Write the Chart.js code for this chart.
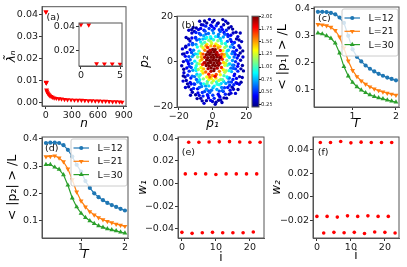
<!DOCTYPE html>
<html>
<head>
<meta charset="utf-8">
<script src="https://cdn.jsdelivr.net/npm/chart.js@4.4.1/dist/chart.umd.min.js"></script>
<style>
  body { margin: 0; background: #fff; }
  #wrap { position: relative; width: 407px; height: 267px; overflow: hidden; background: #fff; }
  canvas { position: absolute; }
</style>
</head>
<body>
<div id="wrap">
  <canvas id="pa" width="135" height="130" style="left:0px;top:0px"></canvas>
  <canvas id="pins" width="78" height="65" style="left:50px;top:15px"></canvas>
  <canvas id="pb" width="137" height="130" style="left:135px;top:0px"></canvas>
  <canvas id="pc" width="135" height="130" style="left:272px;top:0px"></canvas>
  <canvas id="pd" width="135" height="137" style="left:0px;top:130px"></canvas>
  <canvas id="pe" width="135" height="137" style="left:135px;top:130px"></canvas>
  <canvas id="pf" width="137" height="137" style="left:270px;top:130px"></canvas>
</div>
<script>
// (a) spectrum
const nVals = [0, 1, 2, 3, 4, 5, 8, 12, 18, 25, 35, 45, 60, 75, 95, 120, 150, 180, 215, 250, 290, 330, 370, 410, 450, 490, 530, 570, 610, 650, 690, 730, 770, 810, 850, 880];
const lambdaVals = [0.0412, 0.0411, 0.0093, 0.0092, 0.0091, 0.0090, 0.0058, 0.0052, 0.0046, 0.0041, 0.0036, 0.0032, 0.0028, 0.0025, 0.0022, 0.0020, 0.0018, 0.0017, 0.0015, 0.0014, 0.0013, 0.0012, 0.0011, 0.0011, 0.0010, 0.0009, 0.0009, 0.0008, 0.0008, 0.0007, 0.0007, 0.0006, 0.0005, 0.0005, 0.0004, 0.0003];
const insetCount = 6;

// (b) momentum scatter: [p1, p2, colour value], outer points first
const bPoints = [
  [16.6,0.6,0.3],[16.4,3.8,0.26],[15.6,7.0,0.33],[14.2,10.0,0.28],[12.2,12.6,0.32],[9.6,14.8,0.26],[6.6,16.2,0.3],[3.4,17.0,0.28],
  [0.0,17.4,0.33],[-3.4,17.0,0.26],[-6.6,16.2,0.3],[-9.6,14.8,0.28],[-12.2,12.6,0.33],[-14.2,10.0,0.26],[-15.8,6.8,0.3],[-16.8,3.4,0.28],
  [-17.2,0.0,0.33],[-17.0,-3.4,0.26],[-16.2,-6.8,0.3],[-14.8,-9.8,0.28],[-12.6,-12.4,0.33],[-10.0,-14.6,0.26],[-7.0,-16.2,0.3],[-3.6,-17.2,0.28],
  [0.0,-17.6,0.33],[3.6,-17.0,0.26],[6.8,-16.0,0.3],[9.8,-14.4,0.28],[12.4,-12.2,0.33],[14.6,-9.6,0.26],[16.0,-6.6,0.3],[16.8,-3.2,0.28],
  [15.0,11.0,0.35],[11.0,15.4,0.3],[-11.4,15.0,0.35],[-15.6,10.6,0.3],[-17.8,5.6,0.35],[-18.2,-1.8,0.3],[-17.4,-8.6,0.35],[-13.0,-14.8,0.3],
  [-5.0,-18.4,0.35],[5.6,-18.0,0.3],[13.6,-14.0,0.35],[17.6,-7.0,0.3],[18.0,2.0,0.35],[17.2,8.8,0.3],[7.8,17.8,0.35],[-7.6,17.8,0.3],
  [-1.8,18.6,0.35],[1.6,-18.8,0.3],[15.8,-10.0,0.4],[-16.0,-11.4,0.35],[16.4,12.6,0.3],[-14.0,13.8,0.35],
  [15.3,2.7,0.33],[13.1,-5.5,0.38],[11.7,-11.3,0.3],[8.3,-16.1,0.27],[2.1,-17.9,0.3],[-2.7,-15.1,0.42],[-9.1,-16.3,0.27],[-14.1,-11.1,0.31],
  [-16.9,-4.9,0.35],[-16.1,2.3,0.42],[-13.3,9.1,0.36],[-8.3,14.1,0.38],[-4.7,17.9,0.27],[2.9,16.7,0.3],[9.1,16.9,0.26],[13.9,12.9,0.3],
  [16.3,6.1,0.34],[17.7,-1.7,0.28],[15.1,-12.3,0.27],[10.9,-13.9,0.36],[4.9,-16.9,0.32],[-1.1,-17.1,0.4],[-7.9,-14.9,0.37],[-11.9,-13.5,0.29],
  [-15.5,-8.3,0.3],[-14.5,-0.1,0.45],[-15.9,6.3,0.32],[-10.7,13.3,0.31],[-5.5,16.1,0.36],[-0.3,15.5,0.44],[5.9,14.1,0.42],[11.9,14.3,0.27],
  [15.7,9.5,0.29],[14.9,-2.1,0.42],[16.9,-9.1,0.27],[3.9,-15.1,0.35],[-6.1,-17.3,0.28],[-12.7,-9.9,0.38],[-17.3,-6.3,0.27],[-17.7,3.3,0.3],
  [-12.3,14.1,0.29],[0.9,18.1,0.28],[6.1,18.5,0.26],[17.9,4.7,0.26],[18.3,-4.1,0.27],[13.9,-9.3,0.4],
  [13.6,0.0,0.5],[13.4,3.2,0.45],[12.6,6.2,0.52],[11.2,8.8,0.42],[9.2,11.0,0.5],[6.8,12.8,0.45],[4.0,14.0,0.52],[1.0,14.6,0.42],
  [-2.0,14.6,0.5],[-5.0,13.8,0.45],[-7.8,12.4,0.52],[-10.0,10.4,0.42],[-11.8,8.0,0.5],[-13.2,5.2,0.45],[-14.0,2.2,0.52],[-14.2,-1.0,0.42],
  [-13.8,-4.2,0.5],[-12.8,-7.2,0.45],[-11.0,-9.8,0.52],[-8.8,-12.0,0.42],[-6.0,-13.6,0.5],[-3.0,-14.6,0.45],[0.2,-14.8,0.52],[3.4,-14.4,0.42],
  [6.4,-13.2,0.5],[9.0,-11.4,0.45],[11.2,-9.0,0.52],[12.8,-6.2,0.42],[13.6,-3.2,0.5],
  [14.6,1.6,0.45],[14.2,5.0,0.4],[13.0,8.4,0.48],[10.8,11.6,0.4],[8.2,13.8,0.48],[5.2,15.2,0.4],[2.2,15.8,0.48],[-1.0,16.0,0.4],
  [-4.0,15.6,0.48],[-7.0,14.6,0.4],[-9.8,12.8,0.48],[-12.2,10.4,0.4],[-14.0,7.4,0.48],[-15.0,4.0,0.4],[-15.4,0.6,0.48],[-15.2,-2.8,0.4],
  [-14.6,-6.0,0.48],[-13.2,-9.2,0.4],[-11.2,-11.8,0.48],[-8.6,-13.8,0.4],[-5.6,-15.2,0.48],[-2.4,-16.0,0.4],[1.0,-16.2,0.48],[4.4,-15.6,0.4],
  [7.6,-14.4,0.48],[10.4,-12.6,0.4],[12.6,-10.2,0.48],[14.2,-7.4,0.4],[15.0,-4.2,0.48],[15.2,-1.0,0.4],
  [12.0,4.4,0.55],[-12.4,4.0,0.55],[-12.6,-2.6,0.55],[12.6,-1.6,0.55],[4.0,-13.0,0.55],[-4.6,-13.2,0.55],[4.6,13.2,0.55],[-4.4,13.4,0.55],
  [10.2,-10.4,0.5],[-10.6,-10.0,0.5],[-10.0,10.6,0.5],[10.6,9.8,0.5],
  [12.1,-7.9,0.47],[7.1,-11.5,0.52],[-2.3,-12.9,0.55],[-9.5,-7.9,0.6],[-13.7,-2.1,0.5],[-11.3,2.9,0.6],[-9.3,9.5,0.55],[-3.9,12.1,0.6],
  [3.3,11.1,0.65],[8.9,11.9,0.45],[12.9,4.1,0.5],[10.9,-2.9,0.62],[9.3,-7.3,0.7],
  [11.8,0.5,0.7],[11.5,3.5,0.65],[10.6,6.4,0.72],[8.8,8.9,0.62],[6.4,10.8,0.7],[3.6,12.0,0.65],[0.6,12.6,0.7],[-2.4,12.4,0.62],
  [-5.2,11.4,0.72],[-7.8,9.8,0.65],[-9.8,7.6,0.7],[-11.2,5.0,0.62],[-12.0,2.2,0.72],[-12.2,-0.8,0.65],[-11.6,-3.8,0.7],[-10.6,-6.6,0.62],
  [-8.8,-9.0,0.72],[-6.4,-11.0,0.65],[-3.6,-12.2,0.7],[-0.6,-12.6,0.62],[2.6,-12.3,0.72],[5.4,-11.4,0.65],[7.9,-9.6,0.7],[10.0,-7.2,0.62],
  [11.3,-4.4,0.72],[11.9,-1.6,0.65],
  [12.8,2.0,0.6],[12.4,-3.0,0.58],[9.6,-9.0,0.6],[5.8,-12.8,0.58],[-1.6,-13.6,0.6],[-7.8,-11.4,0.58],[-12.0,-6.4,0.6],[-13.2,0.8,0.58],
  [-11.8,7.4,0.6],[-7.0,11.8,0.58],[0.0,13.8,0.6],[7.4,12.0,0.58],[11.8,7.6,0.6],
  [-4.1,-10.7,0.7],[-6.9,-9.7,0.65],[0.3,-11.5,0.75],[5.1,-9.7,0.8],[9.7,-1.1,0.78],[8.7,4.7,0.85],[5.1,9.1,0.88],[-0.9,10.3,0.78],
  [-5.7,9.9,0.75],[-8.9,3.3,0.92],[-9.7,-3.9,0.85],[-8.1,-8.7,0.7],
  [10.0,1.8,0.85],[9.4,5.0,0.8],[7.6,8.0,0.9],[4.6,10.2,0.8],[1.8,11.0,0.85],[-1.2,11.0,0.9],[-4.2,10.2,0.8],[-7.0,8.6,0.85],
  [-9.0,6.4,0.9],[-10.2,3.4,0.8],[-10.5,0.2,0.85],[-10.0,-2.8,0.9],[-9.2,-5.6,0.8],[-7.6,-8.0,0.85],[-5.2,-9.8,0.9],[-2.2,-10.7,0.8],
  [1.0,-10.8,0.85],[4.0,-10.2,0.9],[6.6,-8.8,0.8],[8.6,-6.8,0.85],[9.8,-4.0,0.9],[10.3,-1.0,0.8],
  [9.0,2.6,0.95],[-9.6,-1.8,0.92],[2.8,-10.0,0.95],[-3.4,10.6,0.9],[6.0,-8.0,1.0],[-6.2,7.8,1.0],[-8.0,-6.6,1.0],[8.2,6.8,1.0],
  [8.5,0.5,1.1],[8.2,3.5,1.0],[7.3,6.2,1.15],[5.5,8.0,1.0],[3.2,9.2,1.1],[0.6,9.6,0.95],[-2.2,9.4,1.1],[-4.6,8.4,1.0],
  [-6.6,6.8,1.15],[-8.0,4.6,0.95],[-8.8,2.0,1.1],[-9.0,-0.8,1.0],[-8.4,-3.5,1.15],[-7.2,-5.8,0.95],[-5.4,-7.6,1.1],[-3.0,-8.8,1.0],
  [-0.4,-9.3,1.15],[2.4,-9.0,0.95],[4.8,-7.9,1.1],[6.8,-6.2,1.0],[8.1,-4.0,1.15],[8.8,-1.6,0.95],
  [-3.3,-9.7,1.05],[3.7,-8.3,1.2],[7.3,-4.7,1.2],
  [7.8,-0.8,1.25],[-7.8,-1.0,1.2],[0.5,-8.4,1.25],[-1.0,8.8,1.2],
  [7.0,2.2,1.35],[6.2,4.8,1.3],[4.4,6.6,1.4],[2.0,7.8,1.3],[-0.5,8.0,1.25],[-3.3,7.5,1.35],[-5.6,6.0,1.3],[-7.0,3.6,1.4],
  [-7.3,0.4,1.35],[-6.8,-2.6,1.3],[-5.6,-5.0,1.4],[-3.4,-6.8,1.3],[-0.8,-7.4,1.35],[2.0,-7.2,1.4],[4.6,-5.8,1.3],[6.4,-3.6,1.35],
  [7.3,-1.6,1.25],[6.9,3.1,1.45],[3.1,7.1,1.35],[-3.9,6.9,1.5],[-6.7,2.1,1.45],[-6.3,-4.1,1.3],[-2.1,-7.9,1.3],
  [5.8,1.0,1.7],[5.5,3.2,1.6],[4.6,4.9,1.75],[3.3,6.0,1.5],[1.2,6.8,1.6],[-1.0,6.9,1.45],[-2.9,6.2,1.7],[-4.5,5.0,1.55],
  [-5.6,3.3,1.65],[-6.2,1.0,1.5],[-5.9,-1.3,1.7],[-5.2,-3.2,1.45],[-4.0,-4.6,1.6],[-2.2,-5.6,1.75],[0.0,-6.1,1.5],[2.2,-5.7,1.65],
  [4.1,-4.3,1.55],[5.3,-2.6,1.7],[6.5,-0.4,1.4],[1.5,-6.5,1.8],[-1.6,-6.8,1.6],[5.0,2.0,1.85],[-5.0,-0.5,1.85],
  [-0.9,-4.3,1.9],[0.8,-4.0,2.0],[-2.6,-3.1,1.9],[-0.8,-2.8,2.0],[1.0,-3.2,2.0],[2.8,-2.9,1.9],[-3.7,-1.7,2.0],[-1.9,-1.9,2.0],
  [0.1,-1.6,2.0],[1.7,-1.8,2.0],[3.5,-1.6,2.0],[-4.4,-0.5,1.9],[-2.6,-0.7,2.0],[-1.0,-0.4,2.0],[0.9,-0.6,2.0],[2.8,-0.5,2.0],
  [4.4,-0.7,1.9],[-3.5,0.7,2.0],[-1.7,0.5,2.0],[0.1,0.7,2.0],[1.9,0.6,2.0],[3.7,0.5,2.0],[-4.6,1.9,1.9],[-2.8,1.7,2.0],
  [-0.9,1.9,2.0],[0.8,1.8,2.0],[2.6,2.0,2.0],[4.3,1.7,2.0],[-3.6,3.0,2.0],[-1.8,3.1,2.0],[0.1,2.9,2.0],[1.9,3.1,2.0],
  [3.5,2.9,1.9],[-2.7,4.2,2.0],[-0.9,4.1,2.0],[1.0,4.3,2.0],[2.6,4.0,1.9],[0.1,5.3,2.0],[-1.5,5.0,1.9],[1.6,5.2,2.0]
];
const cbMin = 0.2, cbMax = 2.0;
const cbTicks = [0.25, 0.5, 0.75, 1.0, 1.25, 1.5, 1.75, 2.0];

// (c), (d) order parameters
const seriesLabels = ['L=12', 'L=21', 'L=30'];
const tempVals = [0.2, 0.3, 0.4, 0.5, 0.6, 0.7, 0.8, 0.9, 1.0, 1.1, 1.2, 1.3, 1.4, 1.5, 1.6, 1.7, 1.8, 1.9, 2.0];
const p1L12 = [0.389, 0.389, 0.388, 0.385, 0.380, 0.368, 0.348, 0.300, 0.250, 0.222, 0.205, 0.190, 0.178, 0.168, 0.159, 0.152, 0.145, 0.140, 0.135];
const p1L21 = [0.342, 0.341, 0.338, 0.332, 0.320, 0.296, 0.255, 0.207, 0.172, 0.149, 0.133, 0.121, 0.111, 0.103, 0.097, 0.092, 0.087, 0.084, 0.080];
const p1L30 = [0.310, 0.307, 0.300, 0.291, 0.273, 0.236, 0.186, 0.151, 0.127, 0.111, 0.099, 0.089, 0.081, 0.075, 0.070, 0.066, 0.062, 0.058, 0.054];
const p2L12 = [0.385, 0.386, 0.386, 0.385, 0.377, 0.360, 0.335, 0.305, 0.280, 0.245, 0.220, 0.200, 0.186, 0.175, 0.165, 0.157, 0.150, 0.143, 0.137];
const p2L21 = [0.335, 0.336, 0.338, 0.330, 0.316, 0.290, 0.250, 0.205, 0.172, 0.150, 0.133, 0.121, 0.111, 0.103, 0.097, 0.092, 0.087, 0.083, 0.079];
const p2L30 = [0.306, 0.306, 0.296, 0.288, 0.268, 0.230, 0.183, 0.150, 0.127, 0.111, 0.099, 0.089, 0.081, 0.075, 0.070, 0.066, 0.062, 0.058, 0.054];

// (e), (f) weights per site
const siteIdx = [0, 1, 2, 3, 4, 5, 6, 7, 8, 9, 10, 11, 12, 13, 14, 15, 16, 17, 18, 19, 20, 21, 22, 23];
const w1Vals = [-0.0433, 0.0085, 0.0366, -0.0442, 0.0086, 0.0366, -0.0436, 0.0085, 0.0368, -0.0433, 0.0080, 0.0369, -0.0436, 0.0085, 0.0371, -0.0436, 0.0085, 0.0368, -0.0436, 0.0085, 0.0366, -0.0430, 0.0085, 0.0366];
const w2Vals = [-0.0167, 0.0463, -0.0309, -0.0167, 0.0463, -0.0303, -0.0173, 0.0471, -0.0306, -0.0162, 0.0460, -0.0303, -0.0167, 0.0466, -0.0312, -0.0162, 0.0463, -0.0300, -0.0167, 0.0463, -0.0303, -0.0167, 0.0463, -0.0309];

const BLUE = '#1f77b4', ORANGE = '#ff7f0e', GREEN = '#2ca02c', RED = '#ff0000';
const FAM = 'DejaVu Sans';
const tickFont = {family: FAM, size: 9.5};

function jet(v) {
  const t = Math.min(1, Math.max(0, (v - cbMin) / (cbMax - cbMin)));
  const c = x => Math.round(255 * Math.min(1, Math.max(0, x)));
  return 'rgb(' + c(1.5 - Math.abs(4 * t - 3)) + ',' + c(1.5 - Math.abs(4 * t - 2)) + ',' + c(1.5 - Math.abs(4 * t - 1)) + ')';
}

const fix = d => v => (Math.abs(v) < 1e-12 ? 0 : v).toFixed(d).replace('-', '\u2212');

function linAxis(o) {
  return {
    type: 'linear',
    position: o.position,
    min: o.min,
    max: o.max,
    afterBuildTicks: s => { s.ticks = o.ticks.map(v => ({value: v})); },
    afterFit: s => { if (s.isHorizontal()) s.height = o.size; else s.width = o.size; },
    ticks: {font: tickFont, color: '#1a1a1a', padding: 1, autoSkip: false, maxRotation: 0, callback: v => o.fmt(v)},
    grid: {drawOnChartArea: false, drawTicks: true, tickLength: 3, color: '#333'},
    border: {color: '#555'},
    title: {
      display: !!o.title, text: o.title || '', color: '#000',
      font: {family: FAM, size: o.tsize || 12, style: o.tstyle || 'italic', lineHeight: 1},
      padding: o.tpad || 0
    }
  };
}

function drawMarker(ctx, style, rot, r, x, y) {
  ctx.beginPath();
  if (style === 'circle') {
    ctx.arc(x, y, r, 0, Math.PI * 2);
  } else {
    const a0 = rot * Math.PI / 180;
    for (let k = 0; k < 3; k++) {
      const a = a0 + k * 2 * Math.PI / 3;
      const px = x + Math.sin(a) * r, py = y - Math.cos(a) * r;
      if (k) ctx.lineTo(px, py); else ctx.moveTo(px, py);
    }
    ctx.closePath();
  }
  ctx.fill();
}

// spines on all four sides, optional white face, panel tag
const framePlugin = {
  id: 'frame',
  beforeDatasetsDraw(chart, args, o) {
    if (!o.face) return;
    const {ctx, chartArea: a} = chart;
    ctx.save();
    ctx.fillStyle = o.face;
    ctx.fillRect(a.left, a.top, a.right - a.left, a.bottom - a.top);
    ctx.restore();
  },
  afterDraw(chart, args, o) {
    const {ctx, chartArea: a} = chart;
    ctx.save();
    ctx.strokeStyle = '#555';
    ctx.lineWidth = 1;
    ctx.strokeRect(a.left, a.top, a.right - a.left, a.bottom - a.top);
    if (o.tag) {
      ctx.fillStyle = '#111';
      ctx.font = '9.5px "DejaVu Sans"';
      ctx.textBaseline = 'middle';
      ctx.textAlign = 'left';
      ctx.fillText(o.tag, a.left + o.dx, a.top + o.dy);
    }
    ctx.restore();
  }
};

// matplotlib-like legend box inside the axes
const boxLegend = {
  id: 'boxLegend',
  afterDatasetsDraw(chart, args, o) {
    if (!o.show) return;
    const {ctx, chartArea: a} = chart;
    const x0 = a.right - o.right - o.w, y0 = a.top + o.top;
    ctx.save();
    ctx.beginPath();
    ctx.roundRect(x0, y0, o.w, o.h, 2);
    ctx.fillStyle = 'rgba(255,255,255,0.8)';
    ctx.fill();
    ctx.strokeStyle = '#cccccc';
    ctx.lineWidth = 1;
    ctx.stroke();
    chart.data.datasets.forEach((ds, k) => {
      const y = y0 + o.row0 + k * o.gap;
      ctx.strokeStyle = ds.borderColor;
      ctx.lineWidth = ds.borderWidth;
      ctx.beginPath();
      ctx.moveTo(x0 + o.line0, y);
      ctx.lineTo(x0 + o.line1, y);
      ctx.stroke();
      ctx.fillStyle = ds.borderColor;
      drawMarker(ctx, ds.pointStyle, ds.pointRotation || 0, ds.pointRadius, x0 + (o.line0 + o.line1) / 2, y);
      ctx.fillStyle = '#111';
      ctx.font = '9.5px "DejaVu Sans"';
      ctx.textBaseline = 'middle';
      ctx.fillText(ds.label, x0 + o.textX, y + 0.5);
    });
    ctx.restore();
  }
};

// colour bar beside panel (b)
const colorBar = {
  id: 'colorBar',
  afterDraw(chart, args, o) {
    if (!o.show) return;
    const {ctx, chartArea: a} = chart;
    const s = chart.scales.cb;
    const x = a.right + o.gap;
    const top = s.getPixelForValue(cbMax), bot = s.getPixelForValue(cbMin);
    const g = ctx.createLinearGradient(0, bot, 0, top);
    for (let k = 0; k <= 40; k++) g.addColorStop(k / 40, jet(cbMin + (cbMax - cbMin) * k / 40));
    ctx.save();
    ctx.fillStyle = g;
    ctx.fillRect(x, top, o.width, bot - top);
    ctx.strokeStyle = '#555';
    ctx.lineWidth = 1;
    ctx.strokeRect(x, top, o.width, bot - top);
    ctx.strokeStyle = '#222';
    s.ticks.forEach(t => {
      const y = Math.round(s.getPixelForValue(t.value)) + 0.5;
      ctx.beginPath();
      ctx.moveTo(x + o.width, y);
      ctx.lineTo(x + o.width + 2, y);
      ctx.stroke();
    });
    ctx.restore();
  }
};

function makeChart(id, type, datasets, scales, pad, extra) {
  return new Chart(document.getElementById(id), {
    type: type,
    data: {datasets: datasets},
    options: {
      responsive: false,
      animation: false,
      devicePixelRatio: 1,
      events: [],
      layout: {padding: {left: 0, bottom: 0, top: pad.top, right: pad.right}},
      scales: scales,
      plugins: Object.assign({
        legend: {display: false},
        tooltip: {enabled: false},
        frame: {},
        boxLegend: {show: false},
        colorBar: {show: false}
      }, extra)
    },
    plugins: [framePlugin, boxLegend, colorBar]
  });
}

function xy(xs, ys) { return xs.map((x, k) => ({x: x, y: ys[k]})); }

// (a)
makeChart('pa', 'scatter', [{
  data: xy(nVals, lambdaVals), pointStyle: 'triangle', pointRotation: 180, pointRadius: 2.8,
  backgroundColor: RED, borderWidth: 0
}], {
  x: linAxis({position: 'bottom', min: -45, max: 925, ticks: [0, 300, 600, 900], fmt: fix(0), size: 24, title: 'n', tpad: {top: 0, bottom: 0}}),
  y: linAxis({position: 'left', min: -0.0015, max: 0.0435, ticks: [0, 0.01, 0.02, 0.03, 0.04], fmt: fix(2), size: 42, title: 'λ\u0303\u2099', tpad: {top: 6, bottom: 0}})
}, {top: 6, right: 9}, {frame: {tag: '(a)', dx: 4.5, dy: 11}});

// (a) inset
makeChart('pins', 'scatter', [{
  data: xy(nVals.slice(0, insetCount), lambdaVals.slice(0, insetCount)), pointStyle: 'triangle', pointRotation: 180, pointRadius: 2.8,
  backgroundColor: RED, borderWidth: 0
}], {
  x: linAxis({position: 'bottom', min: -0.25, max: 5.25, ticks: [0, 5], fmt: fix(0), size: 14}),
  y: linAxis({position: 'left', min: 0.0074, max: 0.0426, ticks: [0.02, 0.04], fmt: fix(2), size: 29})
}, {top: 8, right: 6}, {frame: {face: '#fff'}});

// (b)
makeChart('pb', 'scatter', [{
  data: bPoints.map(p => ({x: p[0], y: p[1]})), pointStyle: 'circle', pointRadius: 1.7,
  backgroundColor: bPoints.map(p => jet(p[2])), borderWidth: 0
}], {
  x: linAxis({position: 'bottom', min: -21, max: 21, ticks: [-20, 0, 20], fmt: fix(0), size: 23, title: 'p\u2081', tpad: {top: 0, bottom: 0}}),
  y: linAxis({position: 'left', min: -20, max: 20, ticks: [-20, 0, 20], fmt: fix(0), size: 42, title: 'p\u2082', tpad: {top: 4, bottom: 0}}),
  cb: {
    type: 'linear', axis: 'y', position: 'right', min: cbMin, max: cbMax,
    afterBuildTicks: s => { s.ticks = cbTicks.map(v => ({value: v})); },
    afterFit: s => { s.width = 24; },
    ticks: {font: {family: FAM, size: 5.3}, color: '#222', padding: 13, callback: v => v.toFixed(2)},
    grid: {display: false, drawTicks: false},
    border: {display: false}
  }
}, {top: 7, right: 0}, {frame: {tag: '(b)', dx: 4.5, dy: 9.5}, colorBar: {show: true, gap: 4, width: 7}});

// (c), (d)
function orderSets(a12, a21, a30) {
  return [
    {label: seriesLabels[0], data: xy(tempVals, a12), borderColor: BLUE, backgroundColor: BLUE, borderWidth: 1.2,
      pointStyle: 'circle', pointRadius: 2.1, pointBackgroundColor: BLUE, pointBorderWidth: 0, tension: 0},
    {label: seriesLabels[1], data: xy(tempVals, a21), borderColor: ORANGE, backgroundColor: ORANGE, borderWidth: 1.2,
      pointStyle: 'triangle', pointRotation: 180, pointRadius: 2.8, pointBackgroundColor: ORANGE, pointBorderWidth: 0, tension: 0},
    {label: seriesLabels[2], data: xy(tempVals, a30), borderColor: GREEN, backgroundColor: GREEN, borderWidth: 1.2,
      pointStyle: 'triangle', pointRotation: 0, pointRadius: 2.8, pointBackgroundColor: GREEN, pointBorderWidth: 0, tension: 0}
  ];
}
const legendBox = {show: true, right: 1, w: 56, top: 2, h: 47, row0: 9, gap: 13.3, line0: 2.5, line1: 18, textX: 26.5};

makeChart('pc', 'line', orderSets(p1L12, p1L21, p1L30), {
  x: linAxis({position: 'bottom', min: 0.11, max: 2.07, ticks: [1, 2], fmt: fix(0), size: 23, title: 'T', tpad: {top: 0, bottom: 0}}),
  y: linAxis({position: 'left', min: 0.036, max: 0.407, ticks: [0.1, 0.2, 0.3, 0.4], fmt: fix(1), size: 42, title: '< |p\u2081| > /L', tsize: 12.5, tstyle: 'normal', tpad: {top: 4, bottom: 0}})
}, {top: 7, right: 8}, {frame: {tag: '(c)', dx: 4, dy: 11.5}, boxLegend: legendBox});

makeChart('pd', 'line', orderSets(p2L12, p2L21, p2L30), {
  x: linAxis({position: 'bottom', min: 0.11, max: 2.07, ticks: [1, 2], fmt: fix(0), size: 29, title: 'T', tpad: {top: 0, bottom: 6}}),
  y: linAxis({position: 'left', min: 0.036, max: 0.407, ticks: [0.1, 0.2, 0.3, 0.4], fmt: fix(1), size: 42, title: '< |p\u2082| > /L', tsize: 12.5, tstyle: 'normal', tpad: {top: 6, bottom: 0}})
}, {top: 7, right: 7}, {frame: {tag: '(d)', dx: 3, dy: 12}, boxLegend: legendBox});

// (e), (f)
makeChart('pe', 'scatter', [{
  data: xy(siteIdx, w1Vals), pointStyle: 'circle', pointRadius: 1.8, backgroundColor: RED, borderWidth: 0
}], {
  x: linAxis({position: 'bottom', min: -1.15, max: 24.15, ticks: [0, 10, 20], fmt: fix(0), size: 29, title: 'i', tstyle: 'normal', tpad: {top: 0, bottom: 3.5}}),
  y: linAxis({position: 'left', min: -0.0483, max: 0.0412, ticks: [-0.04, -0.02, 0, 0.02, 0.04], fmt: fix(2), size: 43, title: 'w\u2081', tpad: {top: 1.5, bottom: 0}})
}, {top: 7, right: 6}, {frame: {tag: '(e)', dx: 3.7, dy: 15.5}});

makeChart('pf', 'scatter', [{
  data: xy(siteIdx, w2Vals), pointStyle: 'circle', pointRadius: 1.8, backgroundColor: RED, borderWidth: 0
}], {
  x: linAxis({position: 'bottom', min: -1.15, max: 24.15, ticks: [0, 10, 20], fmt: fix(0), size: 29, title: 'i', tstyle: 'normal', tpad: {top: 0, bottom: 5}}),
  y: linAxis({position: 'left', min: -0.0351, max: 0.0510, ticks: [-0.02, 0, 0.02, 0.04], fmt: fix(2), size: 43, title: 'w\u2082', tpad: {top: 0.5, bottom: 0}})
}, {top: 7, right: 8}, {frame: {tag: '(f)', dx: 4.7, dy: 16}});
</script>
</body>
</html>
